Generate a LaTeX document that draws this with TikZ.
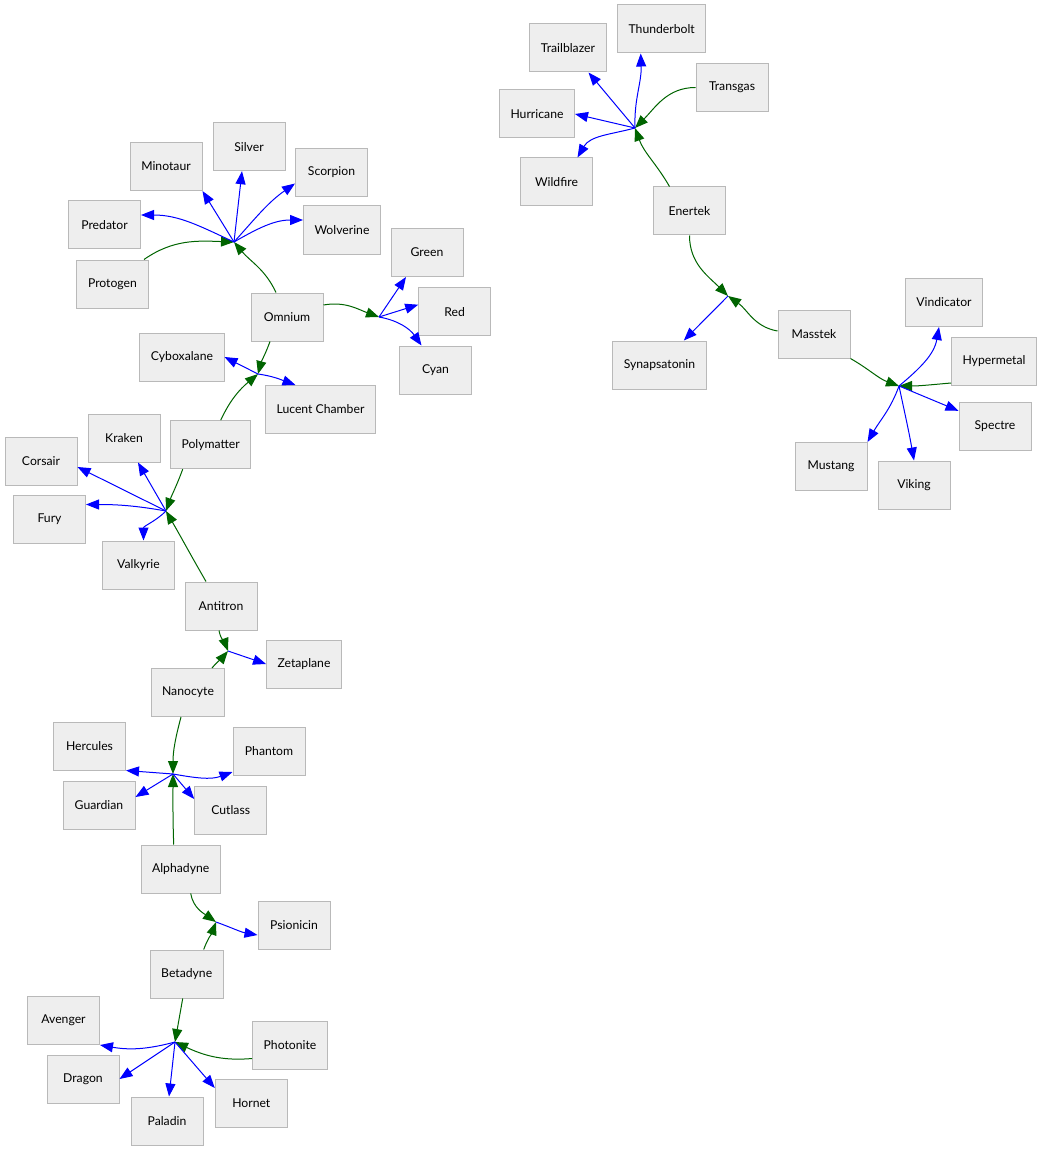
\documentclass[tikz,border=0pt]{standalone}
\usepackage{fontspec}
\setmainfont{Lato}
\definecolor{boxgray}{RGB}{238, 238, 238}
\definecolor{edgegray}{RGB}{185, 185, 185}
\definecolor{flowgreen}{RGB}{0, 100, 0}
\definecolor{flowblue}{RGB}{0, 0, 255}
\usetikzlibrary{arrows.meta}

\begin{document}
\begin{tikzpicture}[x=1pt, y=1pt, >={Triangle[length=13pt, width=10pt]},
        box/.style={rectangle, draw=edgegray, line width=1pt, fill=boxgray, minimum width=72pt, minimum height=48pt, inner xsep=11pt, font=\fontsize{12.2}{14}\selectfont},
        inflow/.style={->, draw=flowgreen, line width=1pt},
        outflow/.style={->, draw=flowblue, line width=1pt}]
        \useasboundingbox (0,0) rectangle (1043,-1150);

        \node [box] (trailblazer) at (568,-48) {Trailblazer};
        \node [box] (thunderbolt) at (661.7,-29) {Thunderbolt};
        \node [box] (transgas) at (732,-87.5) {Transgas};
        \node [box] (hurricane) at (537,-114) {Hurricane};
        \node [box] (wildfire) at (556.5,-182) {Wildfire};
        \node [box] (enertek) at (689.5,-211) {Enertek};
        \node [box] (synapsatonin) at (659.5,-365) {Synapsatonin};
        \node [box] (masstek) at (814,-334) {Masstek};
        \node [box] (vindicator) at (944,-302.5) {Vindicator};
        \node [box] (hypermetal) at (994,-361.5) {Hypermetal};
        \node [box] (spectre) at (995,-426) {Spectre};
        \node [box] (viking) at (914,-485) {Viking};
        \node [box] (mustang) at (831,-466.5) {Mustang};
        \node [box] (minotaur) at (166,-166.5) {Minotaur};
        \node [box] (silver) at (249,-146.7) {Silver};
        \node [box] (scorpion) at (331.5,-172.5) {Scorpion};
        \node [box] (predator) at (104.5,-225) {Predator};
        \node [box] (wolverine) at (342,-230) {Wolverine};
        \node [box] (protogen) at (112.5,-284) {Protogen};
        \node [box] (omnium) at (287,-317) {Omnium};
        \node [box] (green) at (427,-252.5) {Green};
        \node [box] (red) at (454.7,-311.7) {Red};
        \node [box] (cyan) at (435.5,-370) {Cyan};
        \node [box] (cyboxalane) at (182,-357) {Cyboxalane};
        \node [box] (lucent) at (320.5,-409.5) {Lucent Chamber};
        \node [box] (kraken) at (124,-438) {Kraken};
        \node [box] (corsair) at (41,-461) {Corsair};
        \node [box] (polymatter) at (210.7,-444.7) {Polymatter};
        \node [box] (fury) at (49.5,-519.5) {Fury};
        \node [box] (valkyrie) at (138.5,-565) {Valkyrie};
        \node [box] (antitron) at (221,-606) {Antitron};
        \node [box] (zetaplane) at (304,-664) {Zetaplane};
        \node [box] (nanocyte) at (188,-692.5) {Nanocyte};
        \node [box] (hercules) at (89.5,-746) {Hercules};
        \node [box] (phantom) at (269,-751.5) {Phantom};
        \node [box] (guardian) at (99,-805) {Guardian};
        \node [box] (cutlass) at (230.7,-810) {Cutlass};
        \node [box] (alphadyne) at (180.7,-869) {Alphadyne};
        \node [box] (psionicin) at (294,-925) {Psionicin};
        \node [box] (betadyne) at (186.7,-974) {Betadyne};
        \node [box] (avenger) at (63.5,-1020.5) {Avenger};
        \node [box] (photonite) at (290,-1045.5) {Photonite};
        \node [box] (dragon) at (83,-1079) {Dragon};
        \node [box] (paladin) at (167,-1121) {Paladin};
        \node [box] (hornet) at (251.3,-1103.5) {Hornet};

        \coordinate (hubtrail) at (635,-128);
        \coordinate (hubsynap) at (728,-296);
        \coordinate (hubvind) at (899,-386);
        \coordinate (hubsilver) at (234,-242);
        \coordinate (hubgreen) at (379,-317);
        \coordinate (hubcybox) at (258,-374);
        \coordinate (hubkraken) at (166,-511);
        \coordinate (hubzeta) at (228,-651);
        \coordinate (hubherc) at (173,-774);
        \coordinate (hubpsion) at (216,-922);
        \coordinate (hubpaladin) at (175,-1042);

        \draw [inflow] (transgas.west) to[out=180, in=45] (hubtrail);
        \draw [inflow] ([xshift=-20pt]enertek.north) to[out=120, in=-70] (hubtrail);
        \draw [outflow] (hubtrail) -- (trailblazer);
        \draw [outflow] (hubtrail) to[out=92, in=-88] ([xshift=-21pt]thunderbolt.south);
        \draw [outflow] (hubtrail) -- (hurricane.east);
        \draw [outflow] (hubtrail) to[out=195, in=60] ([xshift=21pt]wildfire.north);

        \draw [inflow] (enertek.south) to[out=-90, in=135] (hubsynap);
        \draw [inflow] ([yshift=3pt]masstek.west) to[out=170, in=-35] (hubsynap);
        \draw [outflow] (hubsynap) -- (synapsatonin);

        \draw [inflow] (masstek.south east) to[out=-30, in=160] (hubvind);
        \draw [inflow] ([yshift=3pt]hypermetal.south west) to[out=185, in=0] (hubvind);
        \draw [outflow] (hubvind) to[out=40, in=-100] ([xshift=-5pt]vindicator.south);
        \draw [outflow] (hubvind) -- (spectre);
        \draw [outflow] (hubvind) to[out=-78, in=100] (viking.north);
        \draw [outflow] (hubvind) to[out=-110, in=60] (mustang.north east);

        \draw [inflow] ([xshift=-5pt]protogen.north east) to[out=35, in=178] (hubsilver);
        \draw [inflow] ([xshift=-11pt]omnium.north) to[out=115, in=-50] (hubsilver);
        \draw [outflow] (hubsilver) to[out=155, in=0] ([yshift=10pt]predator.east);
        \draw [outflow] (hubsilver) -- (minotaur.south east);
        \draw [outflow] (hubsilver) -- ([xshift=-7pt]silver.south);
        \draw [outflow] (hubsilver) to[out=48, in=215] ([yshift=-11pt]scorpion.west);
        \draw [outflow] (hubsilver) to[out=30, in=180] ([yshift=10pt]wolverine.west);

        \draw [inflow] ([yshift=12pt]omnium.east) to[out=10, in=160] (hubgreen);
        \draw [outflow] (hubgreen) -- ([xshift=-21pt]green.south);
        \draw [outflow] (hubgreen) -- ([yshift=7pt]red.west);
        \draw [outflow] (hubgreen) to[out=-10, in=125] ([xshift=-14pt]cyan.north);

        \draw [inflow] ([xshift=-17pt]omnium.south) to[out=-110, in=75] (hubcybox);
        \draw [inflow] ([xshift=10pt]polymatter.north) to[out=65, in=-140] (hubcybox);
        \draw [outflow] (hubcybox) -- (cyboxalane.east);
        \draw [outflow] (hubcybox) to[out=-8, in=160] ([xshift=-25pt]lucent.north);

        \draw [inflow] ([xshift=-28pt]polymatter.south) to[out=-110, in=70] (hubkraken);
        \draw [inflow] ([xshift=-15pt]antitron.north) to[out=120, in=-60] (hubkraken);
        \draw [outflow] (hubkraken) -- ([xshift=14pt]kraken.south);
        \draw [outflow] (hubkraken) -- ([yshift=-6pt]corsair.east);
        \draw [outflow] (hubkraken) to[out=170, in=0] ([yshift=15pt]fury.east);
        \draw [outflow] (hubkraken) to[out=-135, in=90] ([xshift=5pt]valkyrie.north);

        \draw [inflow] ([xshift=-2pt]antitron.south) to[out=-80, in=110] (hubzeta);
        \draw [inflow] ([xshift=24pt]nanocyte.north) to[out=50, in=-130] (hubzeta);
        \draw [outflow] (hubzeta) -- (zetaplane.west);

        \draw [inflow] ([xshift=-7pt]nanocyte.south) to[out=-105, in=90] (hubherc);
        \draw [inflow] ([xshift=-7pt]alphadyne.north) to[out=92, in=-90] (hubherc);
        \draw [outflow] (hubherc) -- (hercules.south east);
        \draw [outflow] (hubherc) to[out=-10, in=200] ([yshift=4pt]phantom.south west);
        \draw [outflow] (hubherc) -- ([yshift=8pt]guardian.east);
        \draw [outflow] (hubherc) -- ([yshift=11pt]cutlass.west);

        \draw [inflow] ([xshift=10pt]alphadyne.south) to[out=-80, in=145] (hubpsion);
        \draw [inflow] ([xshift=17pt]betadyne.north) to[out=70, in=-110] (hubpsion);
        \draw [outflow] (hubpsion) to[out=-20, in=170] ([yshift=-10pt]psionicin.west);

        \draw [inflow] ([xshift=-4pt]betadyne.south) -- (hubpaladin);
        \draw [inflow] ([yshift=-13pt]photonite.west) to[out=185, in=-25] (hubpaladin);
        \draw [outflow] (hubpaladin) to[out=195, in=-10] (avenger.south east);
        \draw [outflow] (hubpaladin) -- (dragon.east);
        \draw [outflow] (hubpaladin) -- ([xshift=2pt]paladin.north);
        \draw [outflow] (hubpaladin) -- ([yshift=-9pt]hornet.north west);
    \end{tikzpicture}
\end{document}
